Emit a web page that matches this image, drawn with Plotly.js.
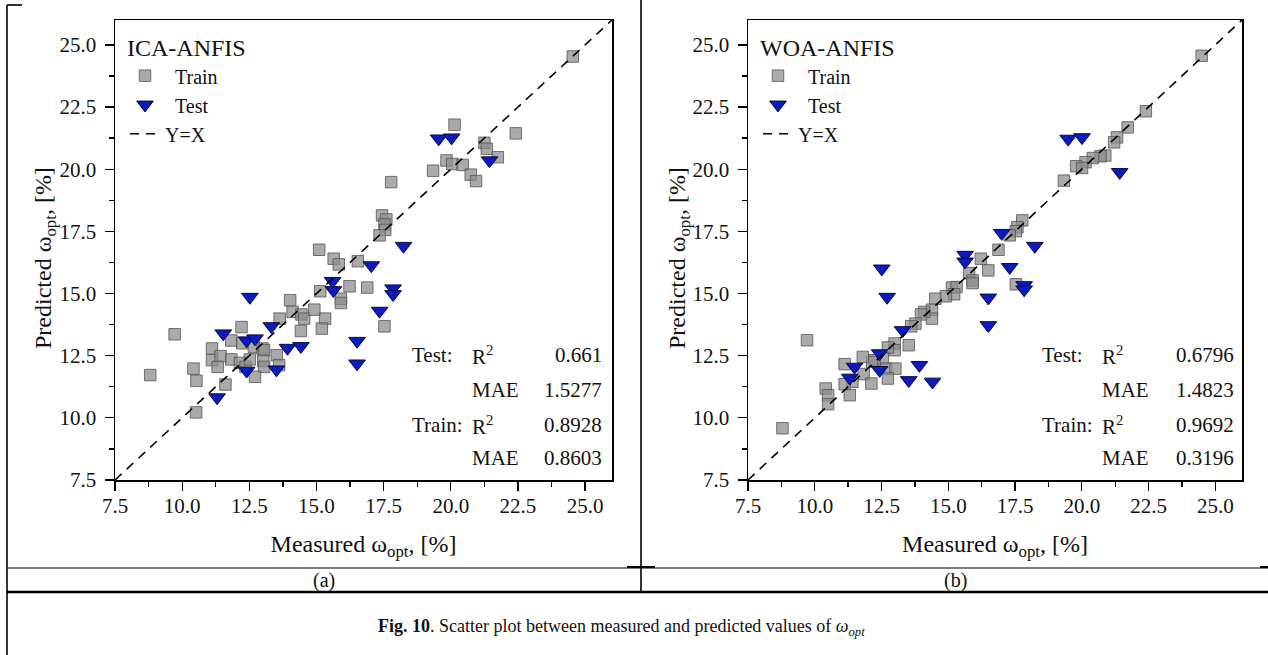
<!DOCTYPE html>
<html>
<head>
<meta charset="utf-8">
<script src="https://cdn.plot.ly/plotly-3.0.1.min.js"></script>
<style>
html,body{margin:0;padding:0;background:#fff;}
#chart{width:1268px;height:655px;}
</style>
</head>
<body>
<div id="chart"></div>
<script>
// ---------- data ----------
const axisRange = [7.5, 26];
const tickVals = [7.5, 10.0, 12.5, 15.0, 17.5, 20.0, 22.5, 25.0];
const tickText = ["7.5", "10.0", "12.5", "15.0", "17.5", "20.0", "22.5", "25.0"];
const minorTickVals = [8.75, 11.25, 13.75, 16.25, 18.75, 21.25, 23.75];

// (a) ICA-ANFIS
const icaTrainX = [24.54,20.14,22.42,21.25,21.34,21.75,19.84,20.05,20.44,19.34,20.74,20.94,17.78,17.44,17.60,17.53,17.56,17.35,15.10,15.64,16.54,15.83,16.23,16.89,15.91,15.91,15.14,14.02,14.11,14.44,14.54,14.92,15.32,15.20,14.42,13.63,12.21,11.83,9.72,12.24,12.67,12.99,13.05,11.11,11.11,11.43,11.83,11.32,12.15,12.36,12.52,13.02,13.05,13.52,13.61,12.71,10.42,10.53,8.81,11.61,10.52,17.53];
const icaTrainY = [24.53,21.79,21.44,21.06,20.82,20.48,20.35,20.21,20.17,19.94,19.78,19.52,19.48,18.14,17.98,17.78,17.56,17.34,16.76,16.40,16.30,16.17,15.29,15.24,14.79,14.62,15.09,14.73,14.26,14.16,13.99,14.35,13.99,13.59,13.49,13.99,13.65,13.11,13.36,13.00,12.85,12.79,12.72,12.79,12.32,12.48,12.35,12.05,12.21,12.05,12.35,12.29,12.05,12.52,12.12,11.65,11.98,11.49,11.72,11.34,10.22,13.68];
const icaTestX = [19.55,20.03,21.44,18.24,17.04,15.60,15.63,12.52,13.32,11.53,12.40,12.71,13.92,14.42,16.51,16.51,12.40,13.51,11.30,17.85,17.85,17.35];
const icaTestY = [21.23,21.27,20.35,16.91,16.13,15.50,15.13,14.86,13.68,13.39,13.11,13.19,12.81,12.88,13.09,12.18,11.89,11.94,10.82,15.20,14.97,14.30];

// (b) WOA-ANFIS
const woaTrainX = [24.49,22.40,21.72,21.32,21.21,20.88,20.70,20.41,20.14,19.79,20.01,19.33,17.77,17.59,17.53,17.30,16.88,16.22,16.50,15.78,15.91,15.91,15.14,15.31,15.22,14.91,14.51,14.39,14.39,14.10,13.98,13.77,13.61,13.52,12.99,12.99,12.74,12.55,12.24,12.15,12.68,13.02,12.74,11.80,11.83,12.12,11.12,11.41,11.12,11.31,10.41,10.50,10.50,9.71,8.79,17.53];
const woaTrainY = [24.56,22.33,21.68,21.28,21.08,20.55,20.52,20.45,20.28,20.12,20.05,19.54,17.94,17.67,17.51,17.34,16.76,16.40,15.93,15.82,15.53,15.42,15.24,15.26,14.97,14.89,14.79,14.35,13.99,14.26,14.16,13.79,13.68,12.92,12.99,12.72,12.83,12.39,12.32,12.25,11.98,11.98,11.58,12.45,11.76,11.38,12.16,11.45,11.35,10.91,11.18,10.91,10.55,13.12,9.58,15.37];
const woaTestX = [19.49,20.01,21.42,17.00,18.24,15.63,15.63,12.51,12.71,16.50,16.50,13.29,12.43,12.43,11.49,11.31,13.52,13.92,14.41,17.30,17.84,17.84];
const woaTestY = [21.22,21.28,19.88,17.43,16.91,16.55,16.28,16.00,14.86,14.83,13.72,13.52,12.59,11.92,12.05,11.61,11.51,12.12,11.45,16.06,15.33,15.16];

const panelNames = ["ICA-ANFIS", "WOA-ANFIS"];
const panelLetters = ["(a)", "(b)"];
const seriesNames = ["\u00a0\u00a0Train", "\u00a0\u00a0Test", "Y=X"];
const statLabels = ["Test:", "Train:"];
const icaStats = {testR2: "0.661", testMAE: "1.5277", trainR2: "0.8928", trainMAE: "0.8603"};
const woaStats = {testR2: "0.6796", testMAE: "1.4823", trainR2: "0.9692", trainMAE: "0.3196"};
const xTitle = "Measured ω<sub>opt</sub>, [%]";
const yTitle = "Predicted ω<sub>opt</sub>, [%]";
const caption = "<b>Fig. 10</b>. Scatter plot between measured and predicted values of <i>ω<sub>opt</sub></i>";

// ---------- layout helpers ----------
const W = 1268, H = 655;
const px = v => v / W;
const py = v => 1 - v / H;
const FONT = "'Liberation Serif', 'Times New Roman', serif";
const TXT = "#111";

const trainMarker = {symbol: "square", size: 11.5, color: "rgba(140,140,140,0.74)", line: {color: "rgba(85,85,85,0.8)", width: 1}};
const testMarker = {symbol: "triangle-down", size: 14.5, color: "#0a1cc0", line: {color: "#0a0a3c", width: 1}};
const diagLine = {color: "#000", width: 1.6, dash: "9px,7px"};

function panelTraces(tx, ty, sx, sy, xa, ya, leg) {
  return [
    {type: "scatter", mode: "markers", name: seriesNames[0], x: tx, y: ty, xaxis: xa, yaxis: ya, legend: leg, marker: trainMarker, hoverinfo: "skip"},
    {type: "scatter", mode: "markers", name: seriesNames[1], x: sx, y: sy, xaxis: xa, yaxis: ya, legend: leg, marker: testMarker, hoverinfo: "skip"},
    {type: "scatter", mode: "lines", name: seriesNames[2], x: axisRange, y: axisRange, xaxis: xa, yaxis: ya, legend: leg, line: diagLine, hoverinfo: "skip"}
  ];
}

const data = [
  ...panelTraces(icaTrainX, icaTrainY, icaTestX, icaTestY, "x", "y", "legend"),
  ...panelTraces(woaTrainX, woaTrainY, woaTestX, woaTestY, "x2", "y2", "legend2")
];

function baseAxis(dom, anchor) {
  return {
    domain: dom, anchor: anchor, range: axisRange, showgrid: false, zeroline: false,
    showline: true, linecolor: "#000", linewidth: 1.5, mirror: true,
    ticks: "outside", ticklen: 9, tickwidth: 1.3, tickcolor: "#000",
    tickvals: tickVals, ticktext: tickText,
    minor: {ticks: "outside", ticklen: 5, tickwidth: 1.3, tickcolor: "#000", tickvals: minorTickVals},
    tickfont: {family: FONT, size: 21, color: TXT}
  };
}
function xAxis(dom, anchor) {
  const a = baseAxis(dom, anchor);
  a.ticklabelstandoff = -3;
  a.title = {text: xTitle, font: {family: FONT, size: 24, color: TXT}, standoff: 18};
  return a;
}
function yAxis(dom, anchor) {
  const a = baseAxis(dom, anchor);
  a.ticklabelstandoff = 4;
  return a;
}

const yDom = [py(480), py(20)];
const legendCommon = {
  bgcolor: "rgba(0,0,0,0)", borderwidth: 0, xanchor: "left", yanchor: "top",
  font: {family: FONT, size: 20, color: TXT}, itemwidth: 30, tracegroupgap: 0,
  traceorder: "normal"
};

function statAnn(xl, xr, xv, ylines, st) {
  const f = {family: FONT, size: 21, color: TXT};
  const mk = (text, x, y, anchor) => ({xref: "paper", yref: "paper", x: px(x), y: py(y), text: text, showarrow: false, xanchor: anchor, yanchor: "middle", font: f});
  return [
    mk(statLabels[0], xl, ylines[0], "left"),
    mk("R<sup>2</sup>", xr, ylines[0], "left"),
    mk(st.testR2, xv, ylines[0], "right"),
    mk("MAE", xr, ylines[1], "left"),
    mk(st.testMAE, xv, ylines[1], "right"),
    mk(statLabels[1], xl, ylines[2], "left"),
    mk("R<sup>2</sup>", xr, ylines[2], "left"),
    mk(st.trainR2, xv, ylines[2], "right"),
    mk("MAE", xr, ylines[3], "left"),
    mk(st.trainMAE, xv, ylines[3], "right")
  ];
}
const statY = [355, 390, 425, 458];

const centerText = (text, x, y, font, angle) => ({xref: "paper", yref: "paper", x: px(x), y: py(y), text: text, showarrow: false, xanchor: "center", yanchor: "middle", font: font, textangle: angle || 0});
const titleFont = {family: FONT, size: 24, color: TXT};

const annotations = [
  ...statAnn(410, 470, 604, statY, icaStats),
  ...statAnn(1040, 1100, 1236, statY, woaStats),
  centerText(yTitle, 45, 258, titleFont, -90),
  centerText(yTitle, 679, 258, titleFont, -90),
  centerText(panelLetters[0], 324, 580, {family: FONT, size: 20, color: TXT}),
  centerText(panelLetters[1], 955, 580, {family: FONT, size: 20, color: TXT}),
  centerText(caption, 621, 627, {family: FONT, size: 18, color: TXT})
];

const lineShape = (x0, y0, x1, y1, w) => ({type: "line", xref: "paper", yref: "paper", x0: px(x0), y0: py(y0), x1: px(x1), y1: py(y1), line: {color: "#000", width: w}});
const shapes = [
  lineShape(7, 5, 7, 655, 1.6),
  lineShape(7, 5, 22, 5, 1.6),
  lineShape(641, 0, 641, 592, 1.6),
  lineShape(7, 568, 1268, 568, 1.2),
  lineShape(627, 567, 655, 567, 2),
  lineShape(1260, 567, 1268, 567, 2),
  lineShape(7, 592, 1268, 592, 2.6)
];

const layout = {
  width: W, height: H, margin: {l: 0, r: 0, t: 0, b: 0},
  paper_bgcolor: "#fff", plot_bgcolor: "#fff", showlegend: true,
  xaxis: xAxis([px(115), px(612)], "y"),
  yaxis: yAxis(yDom, "x"),
  xaxis2: xAxis([px(748), px(1242)], "y2"),
  yaxis2: yAxis(yDom, "x2"),
  legend: Object.assign({}, legendCommon, {x: px(125), y: py(25), title: {text: panelNames[0], side: "top", font: {family: FONT, size: 24, color: TXT}}}),
  legend2: Object.assign({}, legendCommon, {x: px(758), y: py(25), title: {text: panelNames[1], side: "top", font: {family: FONT, size: 24, color: TXT}}}),
  annotations: annotations,
  shapes: shapes
};

Plotly.newPlot("chart", data, layout, {staticPlot: true, displayModeBar: false});
</script>
</body>
</html>
